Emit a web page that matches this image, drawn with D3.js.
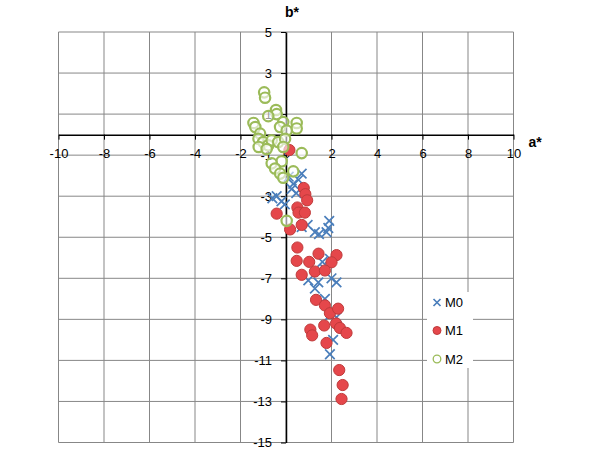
<!DOCTYPE html>
<html>
<head>
<meta charset="utf-8">
<script src="https://cdn.jsdelivr.net/npm/d3@7"></script>
<style>
  body { margin: 0; background: #fff; }
  svg text { font-family: "Liberation Sans", Arial, sans-serif; }
</style>
</head>
<body>
<svg id="chart" width="600" height="451"></svg>
<script>
// series values [a*, b*]
let m0 = [
  [0.69, -1.9], [0.55, -2.2], [0.32, -2.4], [0.25, -2.65], [0.45, -2.85], [0.12, -2.05],
  [-0.41, -3.0], [-0.6, -3.1], [-0.2, -3.25], [-0.05, -3.4],
  [0.69, -4.5], [0.95, -4.4], [1.27, -4.75], [1.45, -4.85], [1.9, -4.2], [1.86, -4.55], [1.78, -4.75],
  [1.93, -6.05], [1.6, -6.2], [1.71, -6.55],
  [0.98, -7.1], [1.42, -7.2], [1.27, -7.5], [2.0, -7.0], [2.22, -7.2],
  [1.71, -8.0], [1.93, -8.8], [2.22, -8.9], [2.07, -10.0], [1.93, -10.7]
];
let m1 = [
  [0.15, -0.75], [0.78, -2.6], [0.85, -2.9], [0.93, -3.2], [0.5, -3.55], [0.55, -3.8], [0.83, -3.8],
  [-0.41, -3.85], [0.69, -4.4], [0.18, -4.62], [0.5, -5.5], [0.47, -6.15], [1.02, -6.2],
  [1.43, -5.8], [2.22, -5.87], [2.0, -6.22], [1.27, -6.67], [1.71, -6.62], [0.69, -6.83],
  [1.32, -8.05], [1.71, -8.32], [1.93, -8.7], [2.29, -8.48], [1.07, -9.5], [1.15, -9.78],
  [1.68, -9.3], [2.2, -9.2], [2.37, -9.42], [2.66, -9.66], [1.78, -10.15],
  [2.34, -11.47], [2.49, -12.2], [2.44, -12.88]
];
let m2 = [
  [-0.96, 2.06], [-0.92, 1.8], [-0.44, 1.2], [-0.41, 1.0], [-0.78, 0.9], [-1.43, 0.57], [-1.35, 0.37],
  [0.47, 0.57], [0.47, 0.3], [-0.12, 0.61], [-0.26, 0.37], [0.03, 0.2], [-1.14, 0.05], [-1.21, -0.2],
  [-1.0, -0.36], [-0.78, -0.52], [-0.63, -0.28], [-0.34, -0.36], [-0.04, -0.2], [-0.12, -0.6],
  [0.69, -0.9], [-0.19, -1.3], [-0.63, -1.4], [-0.48, -1.65], [-0.26, -1.9], [0.32, -1.79],
  [-0.12, -2.1], [0.03, -4.2], [-1.2, -0.6], [-0.85, -0.7]
];
let seriesNames = ['M0', 'M1', 'M2'];
let xTicks = d3.range(-10, 11, 2);
let yTicks = d3.range(-15, 6, 2);

let svg = d3.select('#chart');
let x = d3.scaleLinear().domain([-10, 10]).range([58.5, 513.5]);
let y = d3.scaleLinear().domain([-15, 5]).range([442.5, 32]);

// gridlines
svg.append('g').selectAll('line').data(xTicks).join('line')
  .attr('x1', d => x(d)).attr('x2', d => x(d))
  .attr('y1', y(5)).attr('y2', y(-15))
  .attr('stroke', '#878787').attr('stroke-width', 1);
svg.append('g').selectAll('line').data(yTicks).join('line')
  .attr('x1', x(-10)).attr('x2', x(10))
  .attr('y1', d => y(d)).attr('y2', d => y(d))
  .attr('stroke', '#878787').attr('stroke-width', 1);

// axes crossing at 0, plain hyphen for negatives like the original
let fmt = d => String(d);
let xAxis = svg.append('g')
  .attr('transform', `translate(0,${y(0)})`)
  .call(d3.axisBottom(x).tickValues(xTicks).tickFormat(fmt).tickSize(5).tickSizeOuter(0).tickPadding(9));
let yAxis = svg.append('g')
  .attr('transform', `translate(${x(0)},0)`)
  .call(d3.axisLeft(y).tickValues(yTicks).tickFormat(fmt).tickSize(5).tickSizeOuter(0).tickPadding(9));
[xAxis, yAxis].forEach(g => {
  g.select('.domain').attr('stroke', '#000').attr('stroke-width', 1.5);
  g.selectAll('.tick line').attr('stroke', '#000');
  g.selectAll('.tick text').attr('font-size', 13).attr('fill', '#000')
    .attr('font-family', '"Liberation Sans", Arial, sans-serif');
});

// axis titles
svg.append('text').attr('x', 292).attr('y', 17).attr('text-anchor', 'middle')
  .attr('font-size', 14).attr('font-weight', 'bold').text('b*');
svg.append('text').attr('x', 535).attr('y', 147).attr('text-anchor', 'middle')
  .attr('font-size', 14).attr('font-weight', 'bold').text('a*');

// markers
function cross(sel, s) {
  sel.append('path')
    .attr('d', `M${-s},${-s}L${s},${s}M${-s},${s}L${s},${-s}`)
    .attr('stroke', '#4a7ebb').attr('stroke-width', 1.7).attr('fill', 'none');
}
svg.append('g').selectAll('g').data(m0).join('g')
  .attr('transform', d => `translate(${x(d[0])},${y(d[1])})`)
  .call(cross, 4.8);
svg.append('g').selectAll('circle').data(m1).join('circle')
  .attr('cx', d => x(d[0])).attr('cy', d => y(d[1])).attr('r', 5.6)
  .attr('fill', '#e5474b').attr('stroke', '#bf3b3b').attr('stroke-width', 1);
svg.append('g').selectAll('circle').data(m2).join('circle')
  .attr('cx', d => x(d[0])).attr('cy', d => y(d[1])).attr('r', 5.2)
  .attr('fill', '#fff').attr('fill-opacity', 0.6)
  .attr('stroke', '#9bbb59').attr('stroke-width', 2.2);

// legend
let legend = svg.append('g');
legend.append('rect').attr('x', 427).attr('y', 292).attr('width', 46).attr('height', 76).attr('fill', '#fff');
let ly = [302.5, 330.5, 359];
seriesNames.forEach((name, i) => {
  let g = legend.append('g').attr('transform', `translate(437,${ly[i]})`);
  if (i === 0) cross(g, 3.5);
  else if (i === 1) g.append('circle').attr('r', 4).attr('fill', '#e5474b').attr('stroke', '#bf3b3b');
  else g.append('circle').attr('r', 3.8).attr('fill', '#fff').attr('stroke', '#9bbb59').attr('stroke-width', 1.3);
  legend.append('text').attr('x', 445).attr('y', ly[i] + 4.5).attr('font-size', 13).text(name);
});
</script>
</body>
</html>
